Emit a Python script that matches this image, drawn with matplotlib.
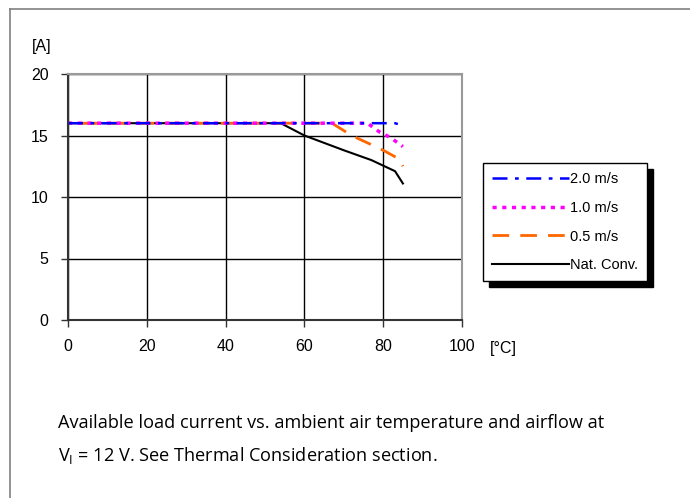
import matplotlib
matplotlib.use("Agg")
import matplotlib.pyplot as plt
from matplotlib.lines import Line2D
from matplotlib.patches import Rectangle

# Data
x_ticks = [0, 20, 40, 60, 80, 100]
y_ticks = [0, 5, 10, 15, 20]

nat_t = [0, 54, 60, 70, 77, 83, 85]
nat_i = [16, 16, 15.0, 13.8, 13.0, 12.1, 11.1]

v05_t = [0, 67, 72, 76, 80, 84, 85]
v05_i = [16, 16, 15.0, 14.4, 13.8, 13.1, 12.5]

v10_t = [0, 76, 79, 82, 85]
v10_i = [16, 16, 15.3, 14.8, 14.1]

v20_t = [0, 83, 84, 85]
v20_i = [16, 16, 15.9, 15.5]

labels = ["2.0 m/s", "1.0 m/s", "0.5 m/s", "Nat. Conv."]
caption1 = "Available load current vs. ambient air temperature and airflow at"
caption2 = "V$_\\mathregular{I}$ = 12 V. See Thermal Consideration section."

W, H = 690, 498
fig = plt.figure(figsize=(W / 100, H / 100), dpi=100)
fig.patch.set_facecolor("white")

# outer frame lines
fig.add_artist(Line2D([10 / W, 10 / W], [0, 1 - 9 / H], color="#808080", lw=1.2))
fig.add_artist(Line2D([10 / W, 1], [1 - 9 / H, 1 - 9 / H], color="#808080", lw=1.2))

ax = fig.add_axes([68 / W, 1 - 320 / H, (462 - 68) / W, (320 - 74) / H])
ax.set_xlim(0, 100)
ax.set_ylim(0, 20)
ax.set_xticks(x_ticks)
ax.set_yticks(y_ticks)
ax.grid(True, color="black", lw=1.0)
ax.set_axisbelow(True)
for s in ["left", "bottom"]:
    ax.spines[s].set_color("#333333")
    ax.spines[s].set_linewidth(1.5)
for s in ["top", "right"]:
    ax.spines[s].set_color("#999999")
    ax.spines[s].set_linewidth(1.5)
ax.tick_params(direction="out", length=5, width=1, color="#333333",
               labelsize=11.5, pad=9)
for lab in ax.get_xticklabels() + ax.get_yticklabels():
    lab.set_family("Liberation Sans")

l_nat, = ax.plot(nat_t, nat_i, color="black", lw=1.5)
ax.plot(v05_t, v05_i, color="#FF6600", lw=2, linestyle=(5, (6, 4)))
l10, = ax.plot(v10_t, v10_i, color="#FF00FF", lw=2.5, dashes=(1.2, 1.6))
l20, = ax.plot(v20_t, v20_i, color="#0000FF", lw=1.8, dashes=(6, 3, 1.5, 3))
l05 = Line2D([], [], color="#FF6600", lw=2, linestyle=(0, (6, 4)))

fig.text(32 / W, 1 - 46 / H, "[A]", family="Liberation Sans", fontsize=11.5,
         va="center", ha="left")
fig.text(490 / W, 1 - 348 / H, "[°C]", family="Liberation Sans", fontsize=11.5,
         va="center", ha="left")

leg = fig.legend([l20, l10, l05, l_nat], labels, loc="upper left",
                 bbox_to_anchor=(483 / W, 1 - 163 / H),
                 prop={"family": "Liberation Sans", "size": 10.5},
                 frameon=True, fancybox=False, edgecolor="black",
                 handlelength=5.3, handletextpad=0.1, labelspacing=1.02,
                 borderpad=0.6, borderaxespad=0, framealpha=1)
leg.get_frame().set_linewidth(1.0)
leg.set_zorder(5)

fig.canvas.draw()
bb = leg.get_window_extent()
shadow = Rectangle((bb.x0 + 6, bb.y0 - 6), bb.width, bb.height,
                   transform=None, facecolor="black", edgecolor="black", zorder=4)
fig.add_artist(shadow)

fig.text(58 / W, 1 - 423 / H, caption1, family="Open Sans", fontsize=13.1,
         va="center", ha="left")
fig.text(58 / W, 1 - 455 / H, caption2, family="Open Sans", fontsize=13.1,
         va="center", ha="left")

fig.savefig("out.png", dpi=100)
